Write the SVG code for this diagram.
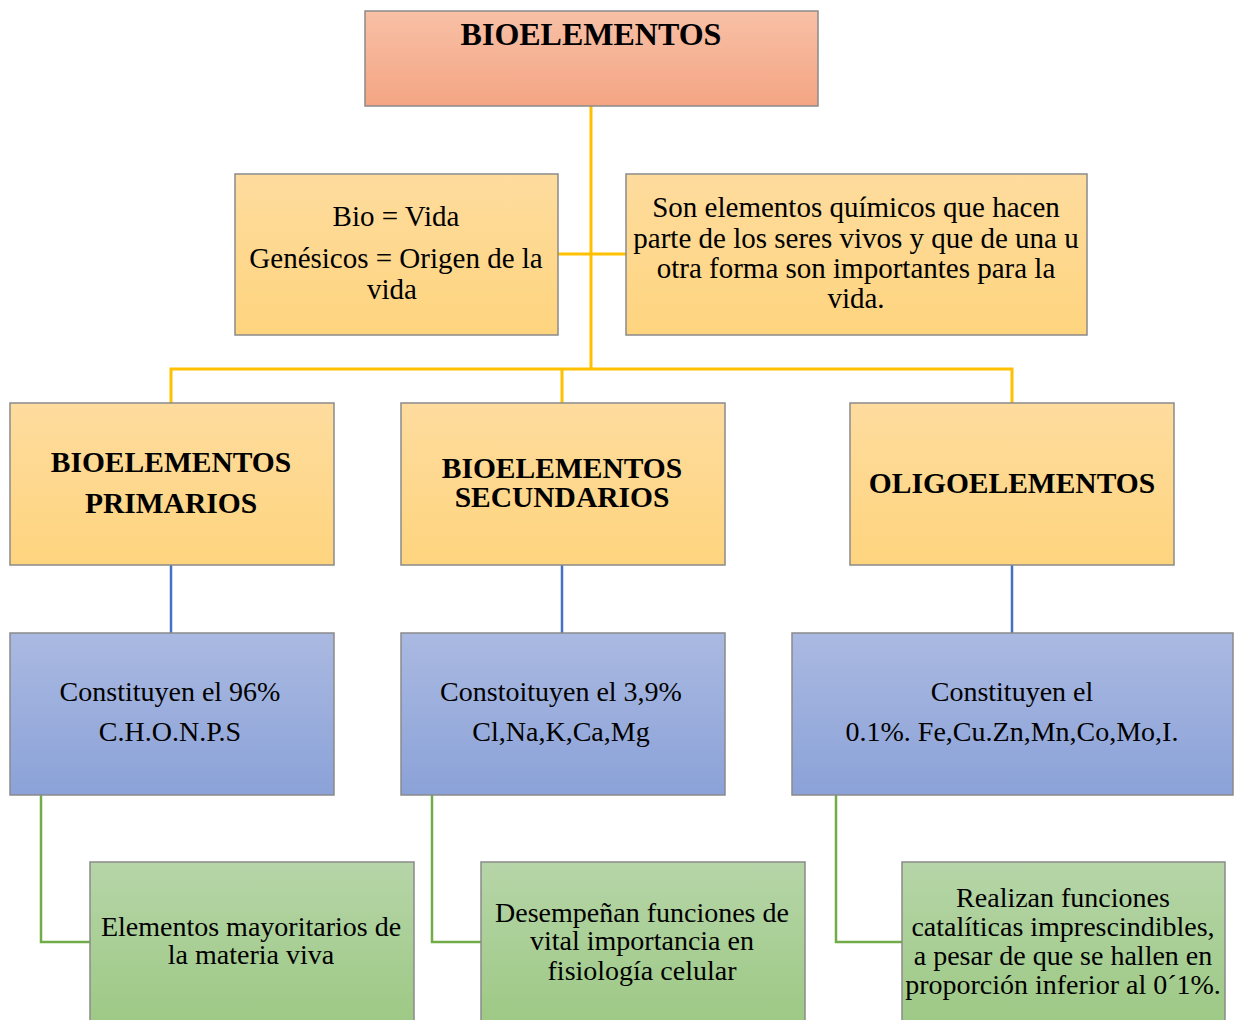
<svg xmlns="http://www.w3.org/2000/svg" width="1236" height="1020" viewBox="0 0 1236 1020">
<defs>
<linearGradient id="gTop" x1="0" y1="0" x2="0" y2="1"><stop offset="0" stop-color="#F8C0A6"/><stop offset="1" stop-color="#F4A583"/></linearGradient>
<linearGradient id="gY" x1="0" y1="0" x2="0" y2="1"><stop offset="0" stop-color="#FEDC9E"/><stop offset="1" stop-color="#FED47E"/></linearGradient>
<linearGradient id="gB" x1="0" y1="0" x2="0" y2="1"><stop offset="0" stop-color="#AAB9E1"/><stop offset="1" stop-color="#8BA2D8"/></linearGradient>
<linearGradient id="gG" x1="0" y1="0" x2="0" y2="1"><stop offset="0" stop-color="#B6D5A8"/><stop offset="1" stop-color="#9CC883"/></linearGradient>
</defs>
<style>
.box{stroke:#8A8A8A;stroke-width:1.5}
.t{font-family:"Liberation Serif","Times New Roman",serif;fill:#000;text-anchor:middle}
.b{font-weight:bold}
.y{stroke:#FFC000;stroke-width:3;fill:none}
.bl{stroke:#4472C4;stroke-width:2.5;fill:none}
.gr{stroke:#70AD47;stroke-width:2.5;fill:none}
</style>
<rect width="1236" height="1020" fill="#fff"/>
<g id="connectors">
<path class="y" d="M591 106V369M558 254H626M171 403V369H1012V403M562 369V403"/>
<path class="bl" d="M171 565V633M562 565V633M1012 565V633"/>
<path class="gr" d="M41 795V942H90M432 795V942H481M836 795V942H902"/>
</g>
<g id="n-bioelementos">
<rect class="box" x="365" y="11" width="453" height="95" fill="url(#gTop)"/>
<text class="t b" x="591" y="45" font-size="32">BIOELEMENTOS</text>
</g>
<g id="n-bio">
<rect class="box" x="235" y="174" width="323" height="161" fill="url(#gY)"/>
<text class="t" font-size="29"><tspan x="396" y="226">Bio = Vida</tspan><tspan x="396" y="268">Genésicos = Origen de la</tspan><tspan x="392" y="299">vida</tspan></text>
</g>
<g id="n-def">
<rect class="box" x="626" y="174" width="461" height="161" fill="url(#gY)"/>
<text class="t" font-size="29"><tspan x="856" y="217">Son elementos químicos que hacen</tspan><tspan x="856" y="248">parte de los seres vivos y que de una u</tspan><tspan x="856" y="278">otra forma son importantes para la</tspan><tspan x="856" y="308">vida.</tspan></text>
</g>
<g id="n-primarios">
<rect class="box" x="10" y="403" width="324" height="162" fill="url(#gY)"/>
<text class="t b" font-size="29.5"><tspan x="171" y="472">BIOELEMENTOS</tspan><tspan x="171" y="513">PRIMARIOS</tspan></text>
</g>
<g id="n-secundarios">
<rect class="box" x="401" y="403" width="324" height="162" fill="url(#gY)"/>
<text class="t b" font-size="29.5"><tspan x="562" y="478">BIOELEMENTOS</tspan><tspan x="562" y="507">SECUNDARIOS</tspan></text>
</g>
<g id="n-oligo">
<rect class="box" x="850" y="403" width="324" height="162" fill="url(#gY)"/>
<text class="t b" x="1012" y="493" font-size="29.5">OLIGOELEMENTOS</text>
</g>
<g id="n-96">
<rect class="box" x="10" y="633" width="324" height="162" fill="url(#gB)"/>
<text class="t" font-size="28"><tspan x="170" y="701">Constituyen el 96%</tspan><tspan x="170" y="741">C.H.O.N.P.S</tspan></text>
</g>
<g id="n-39">
<rect class="box" x="401" y="633" width="324" height="162" fill="url(#gB)"/>
<text class="t" font-size="28"><tspan x="561" y="701">Constoituyen el 3,9%</tspan><tspan x="561" y="741">Cl,Na,K,Ca,Mg</tspan></text>
</g>
<g id="n-01">
<rect class="box" x="792" y="633" width="441" height="162" fill="url(#gB)"/>
<text class="t" font-size="28"><tspan x="1012" y="701">Constituyen el</tspan><tspan x="1012" y="741">0.1%. Fe,Cu.Zn,Mn,Co,Mo,I.</tspan></text>
</g>
<g id="n-mayoritarios">
<rect class="box" x="90" y="862" width="324" height="170" fill="url(#gG)"/>
<text class="t" font-size="28"><tspan x="251" y="936">Elementos mayoritarios de</tspan><tspan x="251" y="964">la materia viva</tspan></text>
</g>
<g id="n-desempenan">
<rect class="box" x="481" y="862" width="324" height="170" fill="url(#gG)"/>
<text class="t" font-size="28"><tspan x="642" y="922">Desempeñan funciones de</tspan><tspan x="642" y="950">vital importancia en</tspan><tspan x="642" y="980">fisiología celular</tspan></text>
</g>
<g id="n-cataliticas">
<rect class="box" x="902" y="862" width="323" height="170" fill="url(#gG)"/>
<text class="t" font-size="28"><tspan x="1063" y="907">Realizan funciones</tspan><tspan x="1063" y="936">catalíticas imprescindibles,</tspan><tspan x="1063" y="965">a pesar de que se hallen en</tspan><tspan x="1063" y="994">proporción inferior al 0´1%.</tspan></text>
</g>
</svg>
